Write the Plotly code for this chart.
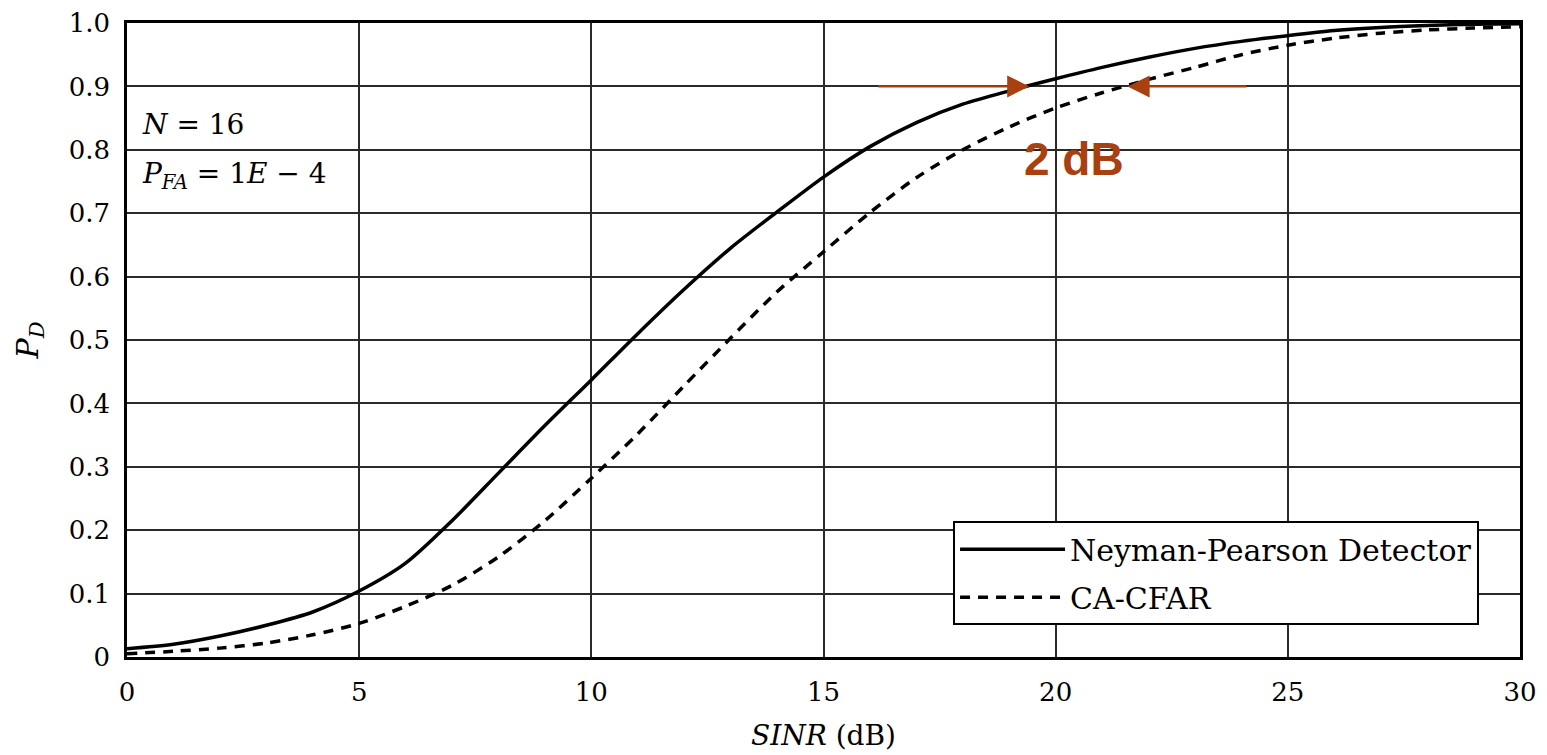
import plotly.graph_objects as go

# ---- data ----
sinr_db = [0, 1, 2, 3, 4, 5, 6, 7, 8, 9, 10, 11, 12, 13, 14, 15, 16, 17, 18, 19, 20,
           21, 22, 23, 24, 25, 26, 27, 28, 29, 30]
pd_np = [0.013, 0.020, 0.033, 0.050, 0.071, 0.104, 0.148, 0.215, 0.290, 0.365, 0.437,
         0.510, 0.580, 0.645, 0.702, 0.757, 0.805, 0.843, 0.872, 0.893, 0.912,
         0.930, 0.946, 0.960, 0.971, 0.980, 0.988, 0.993, 0.996, 0.998, 0.999]
pd_cfar = [0.005, 0.009, 0.014, 0.022, 0.035, 0.053, 0.080, 0.113, 0.158, 0.215, 0.282,
           0.352, 0.428, 0.503, 0.576, 0.639, 0.701, 0.756, 0.800, 0.836, 0.866,
           0.890, 0.911, 0.930, 0.950, 0.965, 0.976, 0.984, 0.989, 0.992, 0.994]
series_names = ["Neyman-Pearson Detector", "CA-CFAR"]

x_ticks = [0, 5, 10, 15, 20, 25, 30]
y_ticks = [0, 0.1, 0.2, 0.3, 0.4, 0.5, 0.6, 0.7, 0.8, 0.9, 1.0]
y_ticktext = ["0", "0.1", "0.2", "0.3", "0.4", "0.5", "0.6", "0.7", "0.8", "0.9", "1.0"]

# 2 dB gap annotation (arrow tails / tips in data units)
gap_level = 0.9
arrow_left = [16.15, 19.43]   # tail, tip
arrow_right = [24.14, 21.55]  # tail, tip
gap_label = "2 dB"
gap_label_pos = [20.4, 0.785]

SERIF = "DejaVu Serif"
RUST = "#A8400F"

fig = go.Figure()
fig.add_trace(go.Scatter(x=sinr_db, y=pd_np, mode="lines", name=series_names[0],
                         legendgroup="a",
                         line=dict(color="black", width=3.5, shape="spline", smoothing=0.8)))
fig.add_trace(go.Scatter(x=sinr_db, y=pd_cfar, mode="lines", name=series_names[1],
                         legendgroup="b",
                         line=dict(color="black", width=3.5, dash="10px,8px",
                                   shape="spline", smoothing=0.8)))

axis_common = dict(showgrid=True, gridcolor="#2a2a2a", gridwidth=1.5, automargin=False,
                   showline=True, linecolor="black", linewidth=2.5, mirror=True,
                   zeroline=False, ticks="", ticklabeloverflow="allow",
                   tickfont=dict(family=SERIF, size=26, color="black"))

fig.update_xaxes(range=[0, 30], tickvals=x_ticks, ticklabelstandoff=10,
                 title=dict(text="<i>SINR</i> (dB)", font=dict(family=SERIF, size=28, color="black"),
                            standoff=20),
                 **axis_common)
fig.update_yaxes(range=[0, 1.0], tickvals=y_ticks, ticktext=y_ticktext, ticklabelstandoff=9,
                 title=dict(text="<i>P</i><sub><i>D</i></sub>",
                            font=dict(family=SERIF, size=30, color="black"), standoff=22),
                 **axis_common)

# text box in upper left
fig.add_annotation(xref="paper", yref="paper", x=0.009, y=0.84, xanchor="left", yanchor="middle",
                   text="<i>N</i> = 16", showarrow=False,
                   font=dict(family=SERIF, size=28, color="black"))
fig.add_annotation(xref="paper", yref="paper", x=0.009, y=0.76, xanchor="left", yanchor="middle",
                   text="<i>P</i><sub><i>FA</i></sub> = 1<i>E</i> − 4", showarrow=False,
                   font=dict(family=SERIF, size=28, color="black"))

# arrows marking the 2 dB gap
for tail, tip in (arrow_left, arrow_right):
    fig.add_annotation(x=tip, y=gap_level, ax=tail, ay=gap_level, xref="x", yref="y",
                       axref="x", ayref="y", text="", showarrow=True,
                       arrowhead=2, arrowsize=2, arrowwidth=2.2, arrowcolor=RUST)
fig.add_annotation(x=gap_label_pos[0], y=gap_label_pos[1], xref="x", yref="y",
                   text="<b>" + gap_label + "</b>", showarrow=False,
                   font=dict(family="Liberation Sans", size=46, color=RUST))

# page body has an 8px margin, so the margins are shifted to land the plot
# area where the reference has it
fig.update_layout(
    width=1547, height=755,
    margin=dict(l=119, r=35, t=15, b=106),
    paper_bgcolor="white", plot_bgcolor="white",
    showlegend=True,
    legend=dict(x=0.593, y=0.214, xanchor="left", yanchor="top",
                bgcolor="white", bordercolor="black", borderwidth=2,
                font=dict(family=SERIF, size=30, color="black"),
                traceorder="grouped", tracegroupgap=6,
                itemwidth=105),
)

fig.write_html("out.html")
